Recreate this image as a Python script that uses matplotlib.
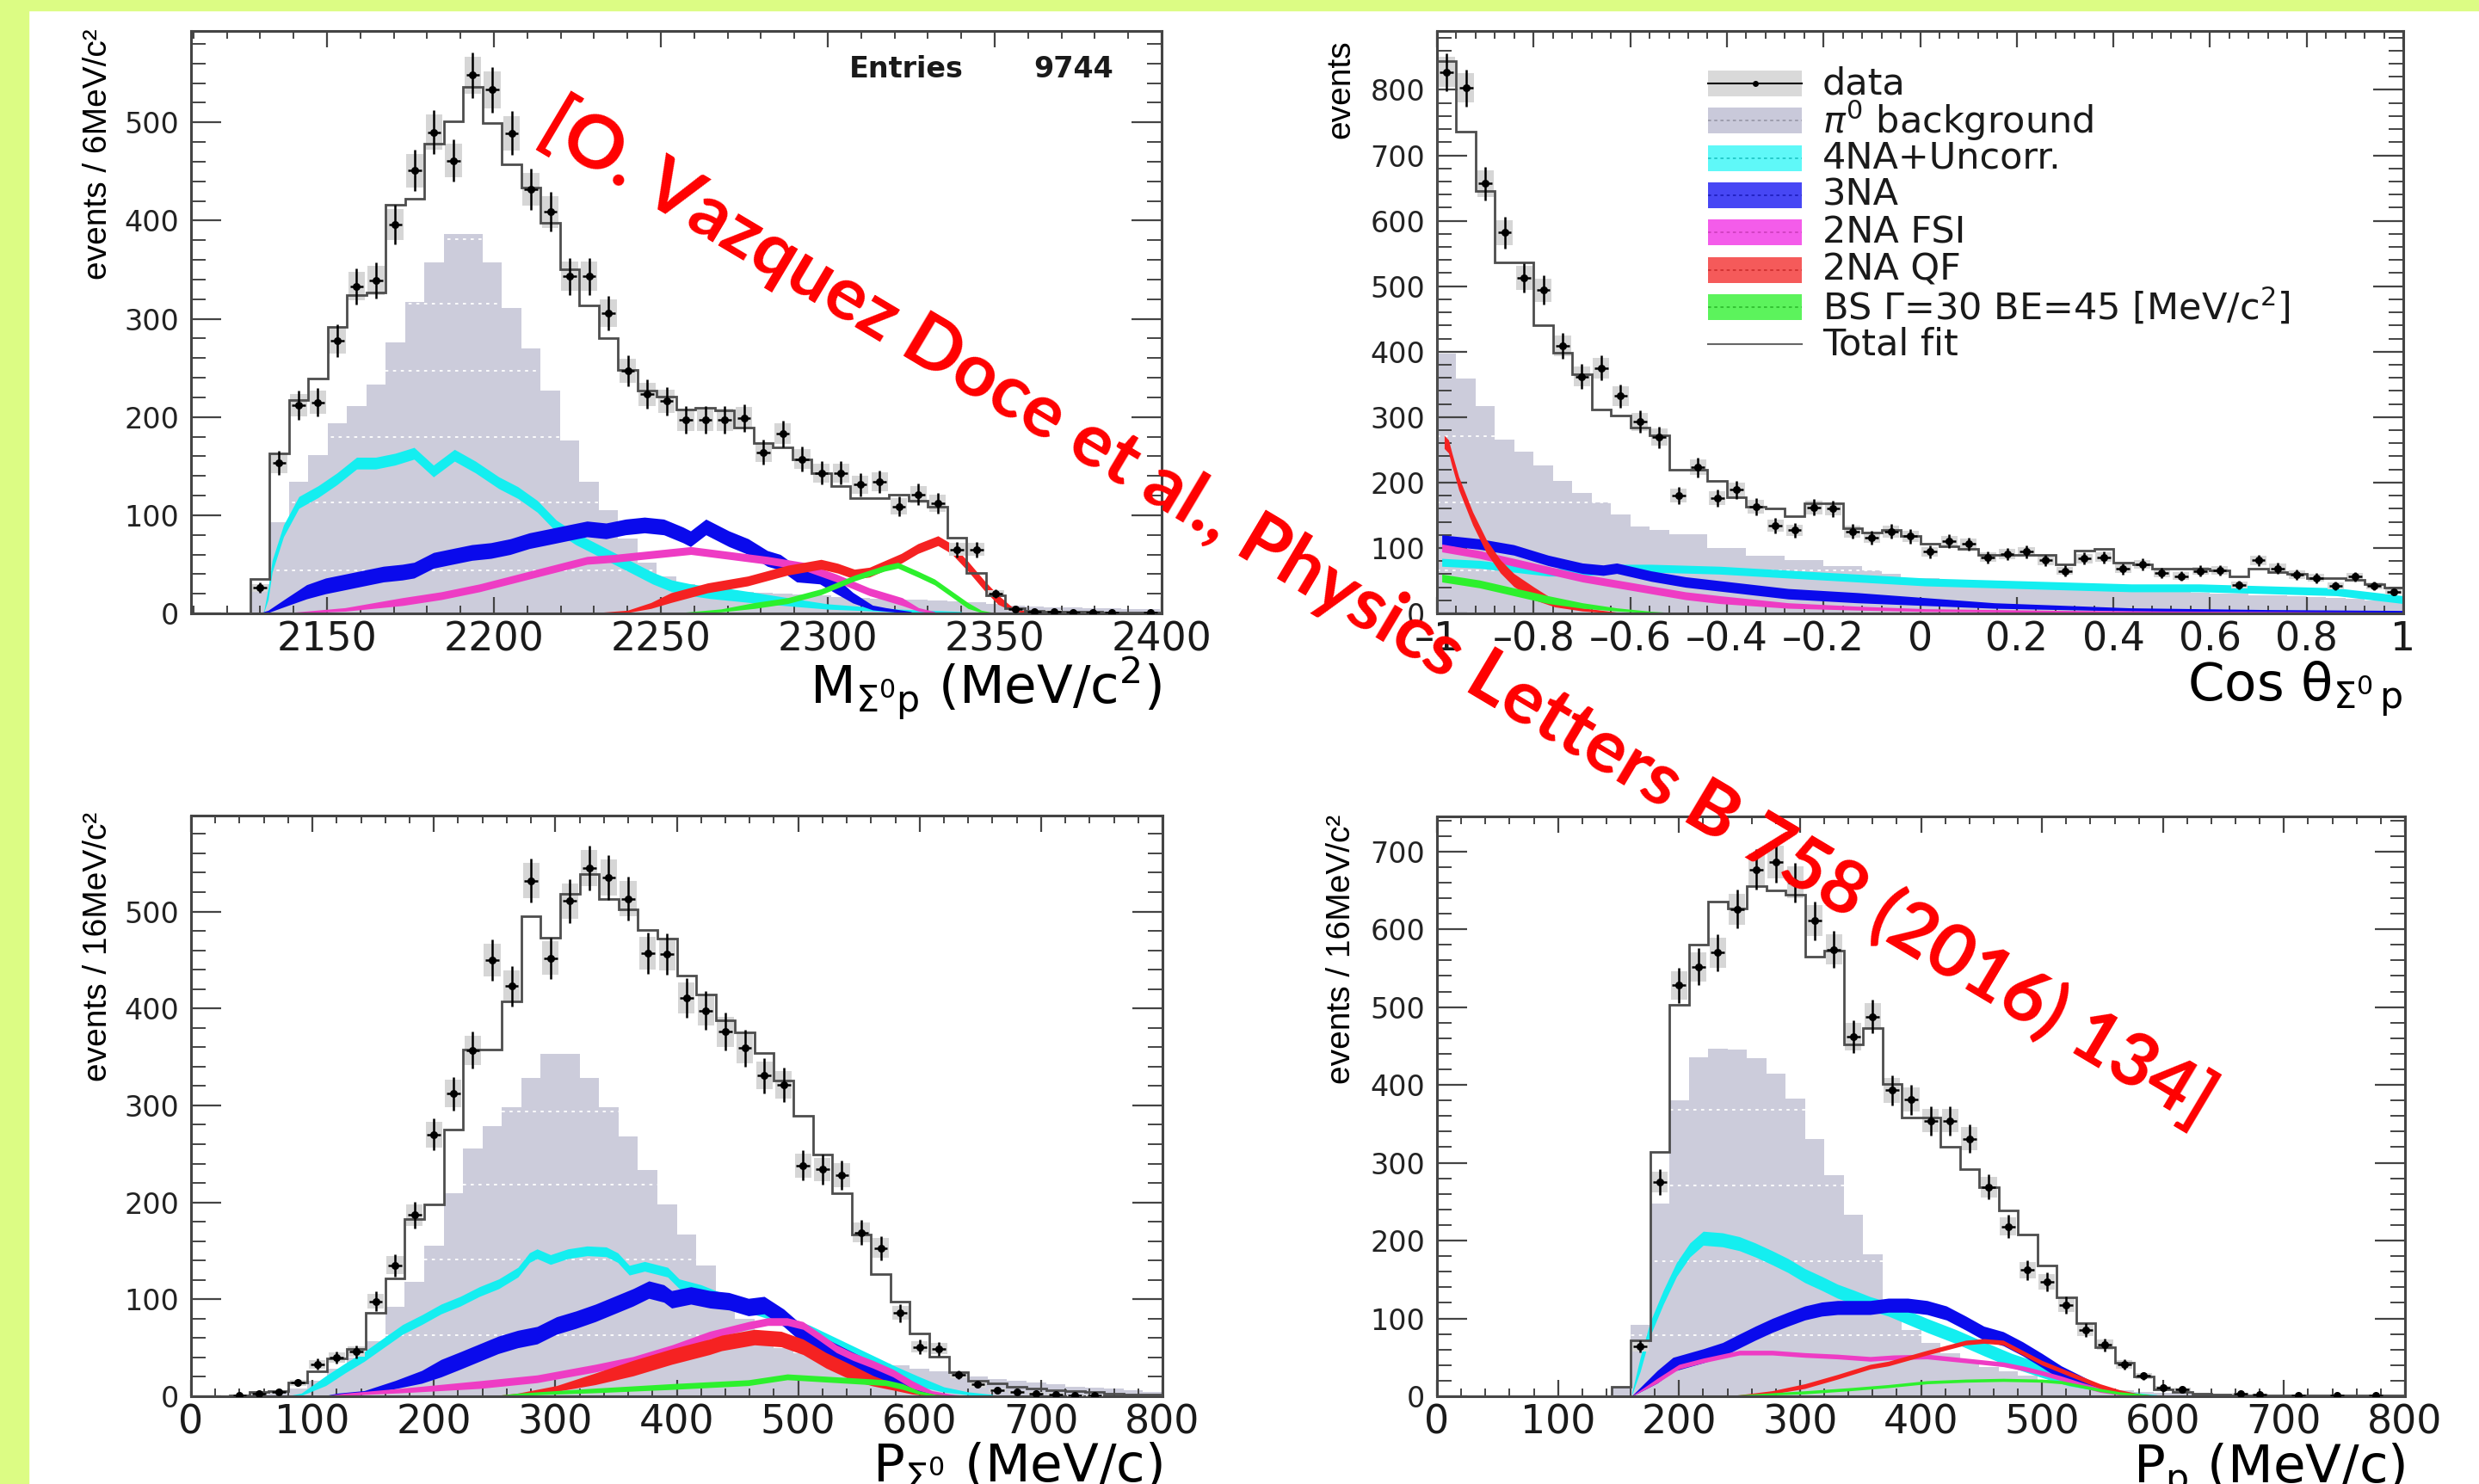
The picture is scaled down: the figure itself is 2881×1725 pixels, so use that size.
import numpy as np
import matplotlib
matplotlib.use('Agg')
import matplotlib.pyplot as plt
from matplotlib import font_manager
from matplotlib.patches import Rectangle
from matplotlib.ticker import MultipleLocator, FuncFormatter

# ---------------- data ----------------
# top left: M(Sigma0 p), bins of ~5.8 MeV starting at 2127
tl_edges = np.linspace(2127, 2127 + 47 * 5.8, 48)
tl_data = [26, 153, 212, 215, 278, 333, 339, 396, 451, 490, 461, 548, 533, 489, 432, 409, 343, 343, 306, 247,
           223, 216, 197, 197, 197, 199, 164, 183, 157, 143, 143, 131, 134, 109, 121, 112, 65, 65, 20, 4,
           2, 2, 1, 1, 1, 0, 1]
tl_total = [35, 163, 217, 239, 292, 324, 327, 416, 422, 478, 501, 536, 499, 457, 434, 398, 350, 314, 280, 248,
            227, 221, 208, 209, 207, 189, 173, 169, 157, 143, 130, 117, 117, 121, 115, 109, 77, 41, 18, 5,
            3, 2, 2, 2, 1, 1, 1]
tl_bkg = [30, 93, 134, 161, 194, 211, 233, 276, 317, 357, 386, 386, 357, 311, 270, 227, 176, 134, 105, 76,
          52, 38, 30, 26, 24, 22, 21, 20, 19, 18, 17, 16, 15, 14, 14, 13, 12, 11, 10, 8,
          7, 6, 6, 5, 5, 4, 4]
tl_cyan_x = [2131, 2132.4, 2133.6, 2137, 2141.6, 2147.4, 2153, 2158.9, 2164.6, 2170.4, 2176.1, 2181.9, 2188.2,
             2194.5, 2201.5, 2207.2, 2213, 2218.7, 2224.5, 2230.3, 2236, 2241.8, 2247.5, 2253.3, 2259, 2265,
             2271, 2278, 2290, 2300, 2320, 2340]
tl_cyan_y = [0, 20, 48, 84, 113, 124, 137, 153, 153, 157, 163, 145, 161, 149, 133, 123, 109, 89, 76, 66, 56, 46,
             36, 28, 24, 21, 19, 16, 11, 7, 3, 1]
tl_blue_x = [2130, 2132.4, 2138.1, 2143.9, 2149.6, 2155.4, 2161.1, 2166.9, 2172.6, 2176.1, 2181.9, 2187.6,
             2193.4, 2199.1, 2204.9, 2210.6, 2216.4, 2222.1, 2227.9, 2233.6, 2239.4, 2245.1, 2250.9, 2256.6,
             2258.9, 2263.5, 2270.4, 2276.2, 2281.9, 2285.8, 2290.7, 2297.6, 2302.6, 2307.5, 2313.4, 2317.4, 2325]
tl_blue_y = [0, 2, 12, 22, 28, 32, 36, 40, 42, 44, 54, 58, 62, 64, 68, 74, 78, 82, 86, 84, 88, 90, 88, 80,
             76, 88, 76, 68, 56, 52, 40, 38, 28, 16, 6, 4, 1]
tl_mag_x = [2138, 2155.4, 2172.6, 2184.2, 2195.7, 2207.2, 2218.7, 2227.9, 2236, 2247.5, 2259, 2270.5, 2282,
            2292.7, 2302.6, 2312.5, 2322.3, 2327.2, 2332]
tl_mag_y = [0, 4, 12, 18, 26, 36, 46, 54, 56, 60, 64, 59, 54, 48, 36, 22, 12, 4, 1]
tl_red_x = [2230, 2240, 2247, 2253, 2264, 2276, 2288, 2298, 2303, 2308, 2312.5, 2322, 2327, 2333, 2337, 2342,
            2347, 2351, 2355, 2360]
tl_red_y = [0, 2, 8, 16, 26, 33, 44, 50, 46, 40, 42, 56, 66, 74, 66, 48, 28, 14, 5, 1]
tl_green_x = [2255, 2268, 2278, 2288, 2298, 2308, 2317, 2321, 2327, 2332, 2337, 2342, 2346, 2350]
tl_green_y = [0, 3, 8, 13, 22, 36, 46, 49, 40, 32, 20, 8, 2, 0]

# top right: cos theta, 50 bins from -1 to 1
tr_edges = np.linspace(-1, 1, 51)
tr_data = [827, 803, 657, 582, 513, 494, 409, 362, 375, 332, 293, 269, 180, 223, 176, 189, 163, 134, 127, 162,
           160, 125, 116, 125, 118, 94, 110, 106, 86, 91, 94, 81, 65, 84, 86, 68, 75, 62, 57, 65,
           66, 43, 81, 69, 59, 54, 42, 56, 42, 33]
tr_total = [844, 736, 646, 537, 537, 441, 398, 365, 311, 302, 284, 272, 220, 220, 202, 178, 163, 160, 148, 168,
            168, 130, 124, 127, 118, 106, 102, 99, 90, 90, 90, 89, 75, 96, 99, 78, 75, 69, 69, 69,
            66, 57, 69, 63, 60, 54, 54, 51, 45, 39]
tr_bkg = [397, 359, 317, 266, 247, 226, 202, 184, 169, 151, 133, 127, 121, 121, 100, 100, 88, 88, 82, 82,
          72, 72, 66, 60, 54, 54, 48, 48, 44, 44, 42, 42, 40, 38, 36, 36, 34, 33, 33, 32,
          30, 30, 28, 27, 26, 25, 24, 22, 20, 18]
tr_cyan_x = [-0.99, -0.912, -0.841, -0.770, -0.699, -0.628, -0.557, -0.415, -0.273, -0.131, 0.011, 0.153,
             0.295, 0.437, 0.578, 0.720, 0.862, 1.0]
tr_cyan_y = [78, 75, 69, 63, 63, 69, 69, 66, 60, 54, 48, 45, 42, 39, 39, 36, 33, 21]
tr_blue_x = [-0.99, -0.912, -0.841, -0.770, -0.699, -0.656, -0.628, -0.557, -0.486, -0.415, -0.273, -0.131,
             0.011, 0.153, 0.295, 0.437, 0.720, 1.0]
tr_blue_y = [112, 106, 97, 81, 69, 66, 69, 57, 48, 42, 30, 24, 18, 12, 9, 6, 4, 3]
tr_mag_x = [-0.99, -0.912, -0.841, -0.770, -0.699, -0.628, -0.557, -0.486, -0.415, -0.273, -0.131, 0.011,
            0.295, 0.6, 1.0]
tr_mag_y = [100, 90, 78, 66, 54, 45, 36, 27, 21, 12, 8, 5, 3, 2, 1]
tr_red_x = [-0.985, -0.976, -0.969, -0.955, -0.926, -0.898, -0.869, -0.841, -0.798, -0.756, -0.699, -0.628, -0.55]
tr_red_y = [262, 255, 235, 199, 145, 103, 72, 51, 30, 15, 6, 1, 0]
tr_green_x = [-0.99, -0.912, -0.841, -0.770, -0.699, -0.628, -0.557, -0.5]
tr_green_y = [54, 45, 33, 21, 12, 6, 2, 0]

# bottom left: P(Sigma0), 16 MeV/c bins
bl_edges = np.linspace(0, 800, 51)
bl_data = [0, 0, 1, 3, 4, 14, 33, 40, 46, 98, 135, 187, 270, 312, 357, 450, 423, 532, 452, 511,
           545, 535, 513, 457, 456, 411, 398, 376, 359, 331, 321, 238, 234, 228, 169, 153, 86, 51, 49, 22,
           12, 6, 4, 3, 2, 1, 1, 0, 0, 0]
bl_total = [0, 0, 1, 4, 5, 14, 26, 39, 49, 86, 122, 183, 198, 275, 358, 358, 407, 495, 473, 518,
            539, 513, 502, 481, 472, 434, 414, 388, 375, 354, 326, 289, 249, 209, 167, 126, 98, 65, 41, 25,
            16, 13, 10, 8, 6, 5, 4, 3, 2, 2]
bl_bkg = [0, 0, 0, 2, 4, 8, 16, 28, 40, 57, 92, 118, 155, 209, 256, 279, 298, 328, 353, 353,
          328, 298, 268, 233, 198, 167, 135, 105, 80, 62, 50, 44, 40, 38, 36, 34, 32, 28, 26, 24,
          20, 18, 16, 14, 12, 10, 9, 8, 6, 4]
bl_cyan_x = [80, 90.8, 110.9, 126.8, 142.6, 158.4, 174.3, 190.1, 205.9, 221.7, 237.5, 253.4, 269.2, 278.7, 285,
             296, 310.3, 326.1, 341.9, 351.4, 360.9, 373.5, 392.5, 402, 420, 450, 480, 510, 540, 560, 580,
             600, 620, 640, 660]
bl_cyan_y = [0, 2, 16, 29, 41, 55, 69, 79, 90, 98, 108, 116, 128, 143, 147, 141, 147, 150, 149, 143, 130, 134,
             128, 116, 110, 95, 83, 68, 50, 38, 26, 15, 7, 3, 1]
bl_blue_x = [110, 120.5, 142.6, 168, 190, 206, 222, 237.5, 253, 269, 285, 301, 317, 333, 348.5, 364, 377,
             389.4, 395.8, 411.6, 427.4, 443, 459, 472, 488, 499, 512.6, 531.5, 550.5, 567, 586, 605, 621, 640]
bl_blue_y = [0, 2, 4, 12, 20, 29, 37, 45, 53, 59, 63, 73, 79, 86, 94, 102, 110, 106, 100, 104, 100, 98, 92,
             94, 81, 69, 57, 45, 33, 22, 12, 4, 1, 0]
bl_mag_x = [110, 126.8, 174, 237.5, 285, 333, 364, 396, 427, 459, 475, 491, 504, 518, 531.5, 545, 561.5, 578,
            594, 610, 627, 640]
bl_mag_y = [0, 2, 6, 12, 18, 29, 37, 49, 63, 73, 77, 77, 73, 61, 49, 41, 33, 24, 12, 4, 1, 0]
bl_red_x = [250, 269, 301, 333, 364, 396, 427, 437, 464, 486, 504, 523, 545, 561.5, 578, 594, 613, 630]
bl_red_y = [0, 2, 8, 18, 29, 41, 51, 55, 61, 59, 51, 37, 24, 16, 10, 4, 1, 0]
bl_green_x = [250, 269, 333, 396, 459, 491, 518, 545, 572, 586, 599, 613, 630]
bl_green_y = [0, 2, 6, 10, 14, 20, 18, 16, 14, 10, 4, 1, 0]

# bottom right: P(p), 16 MeV/c bins
br_edges = np.linspace(0, 800, 51)
br_data = [0, 0, 0, 0, 0, 0, 0, 0, 0, 0, 64, 275, 528, 552, 570, 626, 677, 686, 660, 611,
           574, 462, 488, 393, 381, 354, 354, 331, 269, 218, 162, 147, 117, 85, 66, 41, 26, 11, 9, 0,
           0, 3, 2, 0, 1, 0, 1, 0, 1, 0]
br_total = [0, 0, 0, 0, 0, 0, 0, 0, 0, 12, 72, 314, 503, 580, 636, 627, 655, 650, 644, 565,
            573, 452, 473, 401, 358, 358, 320, 292, 269, 239, 208, 168, 127, 94, 63, 43, 25, 9, 5, 3,
            2, 1, 1, 1, 1, 1, 1, 1, 1, 1]
br_bkg = [0, 0, 0, 0, 0, 0, 0, 0, 0, 11, 92, 248, 380, 436, 447, 446, 434, 415, 382, 331,
          284, 233, 182, 110, 85, 68, 55, 45, 38, 32, 26, 21, 17, 13, 10, 8, 6, 4, 3, 2,
          2, 2, 1, 1, 1, 1, 1, 1, 1, 1]
br_cyan_x = [161, 168, 176, 187, 198, 209, 220, 236, 250, 263, 277, 290, 304, 318, 331, 345, 358, 373, 405, 430,
             452, 475, 500, 522, 548, 570, 595]
br_cyan_y = [3, 41, 86, 127, 163, 188, 203, 201, 196, 188, 178, 168, 155, 145, 135, 127, 119, 112, 91, 76,
             61, 46, 33, 20, 10, 4, 1]
br_blue_x = [161, 182, 195, 220, 236, 250, 263, 277, 290, 304, 318, 331, 345, 358, 373, 389, 405, 421, 437, 452,
             468, 484, 500, 516, 532, 548, 564, 580, 595]
br_blue_y = [0, 25, 41, 52, 60, 71, 81, 91, 99, 107, 112, 114, 114, 114, 117, 117, 114, 107, 94, 81,
             74, 61, 46, 30, 20, 10, 4, 1, 0]
br_mag_x = [161, 182, 200, 220, 250, 277, 304, 331, 358, 377, 405, 437, 468, 484, 500, 516, 532, 548, 564, 580]
br_mag_y = [0, 20, 38, 46, 56, 56, 53, 51, 48, 50, 51, 46, 41, 36, 30, 23, 15, 8, 3, 0]
br_red_x = [240, 250, 277, 304, 331, 358, 373, 405, 437, 452, 468, 484, 500, 516, 532, 548, 564, 580, 595]
br_red_y = [0, 1, 5, 13, 25, 38, 42, 56, 69, 71, 69, 56, 43, 33, 23, 13, 6, 2, 0]
br_green_x = [240, 250, 304, 341, 373, 405, 437, 468, 500, 516, 532, 548, 564, 589, 600]
br_green_y = [0, 1, 5, 9, 13, 18, 20, 21, 20, 18, 13, 8, 4, 1, 0]

# half widths of the fit uncertainty bands (cyan, blue, magenta, red, green)
tl_band_hw = [6, 8, 4, 5, 3]
tr_band_hw = [6, 8, 6, 10, 6]
bl_band_hw = [5, 9, 4, 8, 3]
br_band_hw = [9, 9, 3, 3, 2]

legend_labels = ['data', r'$\pi^{0}$ background', '4NA+Uncorr.', '3NA', '2NA FSI', '2NA QF',
                 r'BS $\Gamma$=30 BE=45 [MeV/c$^{2}$]', 'Total fit']

# ---------------- style ----------------
W, H = 2881, 1725
plt.rcParams['font.family'] = ['DejaVu Sans']
plt.rcParams['mathtext.fontset'] = 'dejavusans'

BKG_COLOR = '#ccccdb'
BAND_COLORS = ['#14eef0', '#0a0aec', '#ee3cc4', '#f52222', '#2df02d']
FRAME = '#444444'

installed = {f.name for f in font_manager.fontManager.ttflist}
if 'Liberation Sans Narrow' in installed:
    YFONT, YSIZE = ['Liberation Sans Narrow', 'DejaVu Sans'], 33
else:
    YFONT, YSIZE = ['Liberation Sans', 'DejaVu Sans'], 28
WM_FONT = 'Lato' if 'Lato' in installed else 'Open Sans'

fig = plt.figure(figsize=(W / 100, H / 100), dpi=100, facecolor='white')

# yellow-green slide border
fig.patches.append(Rectangle((0, 0), 33 / W, 1, transform=fig.transFigure, color='#dcfc84', zorder=0))
fig.patches.append(Rectangle((0, 1 - 12 / H), 1, 12 / H, transform=fig.transFigure, color='#dcfc84', zorder=0))


def px_axes(left, top, right, bottom):
    return fig.add_axes([left / W, 1 - bottom / H, (right - left) / W, (bottom - top) / H])


def draw_panel(ax, edges, data, total, bkg, bands, hws, dotted):
    edges = np.asarray(edges)
    centers = 0.5 * (edges[:-1] + edges[1:])
    bw = edges[1] - edges[0]
    ax.stairs(bkg, edges, fill=True, color=BKG_COLOR, lw=0, zorder=1)
    for lv in dotted:
        ax.axhline(lv, color='white', lw=1.3, ls=(0, (2, 3)), zorder=1.5)
    for i, ((bx, by), hw, col) in enumerate(zip(bands, hws, BAND_COLORS)):
        bx = np.asarray(bx, float)
        by = np.asarray(by, float)
        h = np.minimum(hw, 0.3 * by + 0.6)
        ax.fill_between(bx, np.maximum(by - h, 0), by + h, color=col, lw=0, zorder=2 + 0.1 * i)
    data = np.asarray(data, float)
    m = data > 0
    err = np.sqrt(data[m])
    # systematic boxes, total fit, then the points
    ax.bar(centers[m], 1.6 * err, bottom=data[m] - 0.8 * err, width=0.85 * bw, color='#d6d6d6', zorder=4)
    ax.stairs(total, edges, color='#4d4d4d', lw=2, zorder=5)
    ax.errorbar(centers[m], data[m], yerr=err, xerr=0.35 * bw, fmt='o', ms=5.5, color='black',
                elinewidth=1.8, capsize=0, zorder=6)


def style_axes(ax, xmaj, xmin, ymaj, ymin):
    ax.xaxis.set_major_locator(MultipleLocator(xmaj))
    ax.xaxis.set_minor_locator(MultipleLocator(xmin))
    ax.yaxis.set_major_locator(MultipleLocator(ymaj))
    ax.yaxis.set_minor_locator(MultipleLocator(ymin))
    ax.tick_params(which='both', direction='in', top=True, right=True, color=FRAME)
    ax.tick_params(axis='x', which='major', length=14, width=1.6, labelsize=33, pad=6, labelcolor='#1a1a1a')
    ax.tick_params(axis='x', which='minor', length=6.5, width=1.4)
    ax.tick_params(axis='y', which='major', length=25, width=1.6, labelsize=24, pad=10, labelcolor='#222222')
    ax.tick_params(axis='y', which='minor', length=12.5, width=1.4)
    for s in ax.spines.values():
        s.set_color(FRAME)
        s.set_linewidth(2.2)


def fmt_num(v, pos):
    v = round(v, 6)
    s = f'{abs(v):g}'
    return ('\u2013' + s) if v < 0 else s


# ---------------- top left ----------------
ax1 = px_axes(222, 36, 1350, 713)
draw_panel(ax1, tl_edges, tl_data, tl_total, tl_bkg,
           [(tl_cyan_x, tl_cyan_y), (tl_blue_x, tl_blue_y), (tl_mag_x, tl_mag_y),
            (tl_red_x, tl_red_y), (tl_green_x, tl_green_y)], tl_band_hw, [44, 113, 180, 247, 315, 381])
ax1.set_xlim(2109.3, 2400)
ax1.set_ylim(0, 593)
style_axes(ax1, 50, 10, 100, 20)
ax1.set_ylabel('events / 6MeV/c\u00b2', loc='top', family=YFONT, fontsize=YSIZE)
ax1.yaxis.set_label_coords(-0.080, 1.004)
ax1.set_xlabel(r'M$_{\Sigma^{0}\mathrm{p}}$ (MeV/c$^{2}$)', loc='right', fontsize=44)
ax1.xaxis.set_label_coords(1.0, -0.072)
fig.text(987 / W, 1 - 80 / H, 'Entries', fontsize=24, fontweight='bold', va='center', ha='left', color='#1a1a1a')
fig.text(1294 / W, 1 - 80 / H, '9744', fontsize=24, fontweight='bold', va='center', ha='right', color='#1a1a1a')

# ---------------- top right ----------------
ax2 = px_axes(1670, 36, 2793, 713)
draw_panel(ax2, tr_edges, tr_data, tr_total, tr_bkg,
           [(tr_cyan_x, tr_cyan_y), (tr_blue_x, tr_blue_y), (tr_mag_x, tr_mag_y),
            (tr_red_x, tr_red_y), (tr_green_x, tr_green_y)], tr_band_hw, [66, 169, 271])
ax2.set_xlim(-1, 1)
ax2.set_ylim(0, 890)
style_axes(ax2, 0.2, 0.04, 100, 20)
ax2.xaxis.set_major_formatter(FuncFormatter(fmt_num))
ax2.set_ylabel('events', loc='top', family=YFONT, fontsize=YSIZE)
ax2.yaxis.set_label_coords(-0.083, 0.985)
ax2.set_xlabel('Cos \u03b8$_{\\Sigma^{0}\\,\\mathrm{p}}$', loc='right', fontsize=44)
ax2.xaxis.set_label_coords(1.0, -0.078)

# ---------------- bottom left ----------------
ax3 = px_axes(222, 948, 1351, 1623)
draw_panel(ax3, bl_edges, bl_data, bl_total, bl_bkg,
           [(bl_cyan_x, bl_cyan_y), (bl_blue_x, bl_blue_y), (bl_mag_x, bl_mag_y),
            (bl_red_x, bl_red_y), (bl_green_x, bl_green_y)], bl_band_hw, [63, 141, 218, 294])
ax3.set_xlim(0, 800)
ax3.set_ylim(0, 599)
style_axes(ax3, 100, 20, 100, 20)
ax3.set_ylabel('events / 16MeV/c\u00b2', loc='top', family=YFONT, fontsize=YSIZE)
ax3.yaxis.set_label_coords(-0.080, 1.007)
ax3.set_xlabel(r'P$_{\Sigma^{0}}$ (MeV/c)', loc='right', fontsize=44)
ax3.xaxis.set_label_coords(1.0, -0.077)

# ---------------- bottom right ----------------
ax4 = px_axes(1670, 949, 2795, 1623)
draw_panel(ax4, br_edges, br_data, br_total, br_bkg,
           [(br_cyan_x, br_cyan_y), (br_blue_x, br_blue_y), (br_mag_x, br_mag_y),
            (br_red_x, br_red_y), (br_green_x, br_green_y)], br_band_hw, [79, 174, 271, 368])
ax4.set_xlim(0, 800)
ax4.set_ylim(0, 745)
style_axes(ax4, 100, 20, 100, 20)
ax4.set_ylabel('events / 16MeV/c\u00b2', loc='top', family=YFONT, fontsize=YSIZE)
ax4.yaxis.set_label_coords(-0.083, 1.003)
ax4.set_xlabel(r'P$_{\mathrm{p}}$ (MeV/c)', loc='right', fontsize=44)
ax4.xaxis.set_label_coords(1.0, -0.077)

# ---------------- legend (drawn in pixel coordinates) ----------------
lax = fig.add_axes([0, 0, 1, 1], zorder=10)
lax.set_xlim(0, W)
lax.set_ylim(H, 0)
lax.axis('off')
sw_fill = ['#d9d9d9', '#c9c9da', '#5ff8f8', '#4747f4', '#f45cea', '#f55a5a', '#5cf35c', None]
sw_line = ['black', '#9a9aaa', '#22c8c8', '#2020c0', '#d040c0', '#d03030', '#30c030', '#666666']
for i, lab in enumerate(legend_labels):
    yc = 97 + 43.3 * i
    if sw_fill[i] is not None:
        lax.add_patch(Rectangle((1985, yc - 15), 109, 30, color=sw_fill[i], lw=0))
    if i == 0:
        lax.plot([1985, 2094], [yc, yc], color='black', lw=1.5)
        lax.plot([2039.5], [yc], 'o', color='black', ms=4)
    elif i == 7:
        lax.plot([1985, 2094], [yc, yc], color=sw_line[i], lw=1.5)
    else:
        lax.plot([1985, 2094], [yc, yc], color=sw_line[i], lw=1.3, ls=(0, (2, 2)))
    lax.text(2118, yc, lab, fontsize=31, va='center', ha='left', color='#1a1a1a')

# ---------------- red citation watermark ----------------
wm = fig.text(1602 / W, 1 - 712 / H, '[O. Vazquez Doce et al., Physics Letters B 758 (2016) 134]',
              fontsize=60, color='#ff0000', fontweight='bold', family=[WM_FONT, 'DejaVu Sans'],
              ha='center', va='center', zorder=20)
fig.canvas.draw()
w = wm.get_window_extent(fig.canvas.get_renderer()).width
wm.set_fontsize(60 * 2250 / w)
wm.set_rotation(-30.8)

fig.savefig('out.png', dpi=100, facecolor='white')
